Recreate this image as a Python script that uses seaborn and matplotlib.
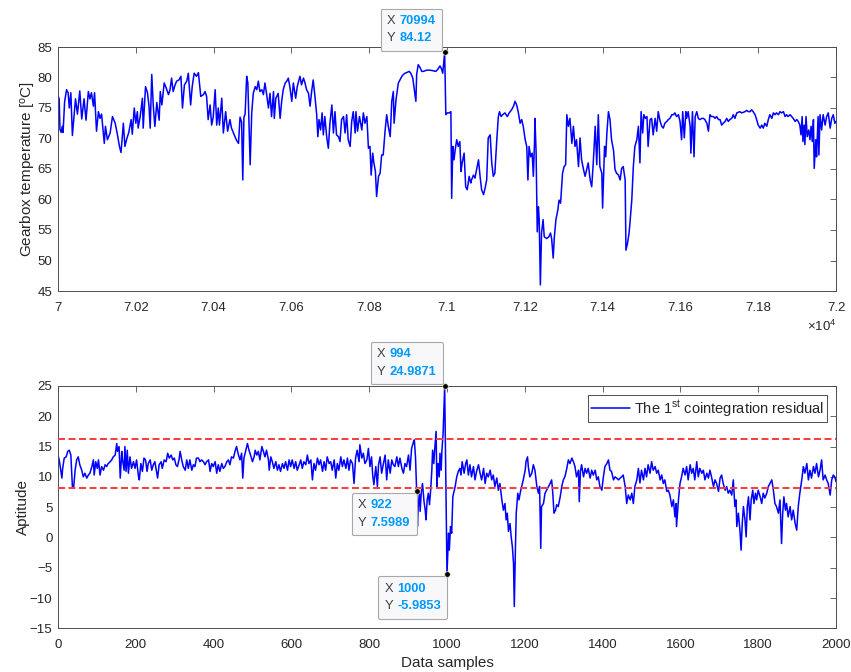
import numpy as np
import pandas as pd
import matplotlib
matplotlib.use("Agg")
import matplotlib.pyplot as plt
import seaborn as sns
from matplotlib.offsetbox import AnnotationBbox, TextArea, HPacker, VPacker
from matplotlib.ticker import FuncFormatter, MultipleLocator

# ---------------------------------------------------------------------------
# Gearbox temperature, samples 70000..72000 (offset from sample_start)
# ---------------------------------------------------------------------------
sample_start = 70000
temp_offset = [
    0, 3, 5, 8, 11, 13, 17, 22, 26, 29, 33, 37, 41, 45, 50, 56, 61, 67, 72, 78,
    82, 86, 91, 94, 99, 104, 108, 112, 119, 122, 127, 134, 140, 147, 152, 158, 162, 168, 172, 177,
    182, 188, 191, 196, 200, 204, 206, 211, 217, 219, 225, 230, 234, 237, 241, 245, 249, 254, 260, 263,
    267, 273, 278, 284, 288, 292, 296, 301, 305, 311, 316, 320, 325, 331, 335, 341, 345, 350, 356, 361,
    367, 374, 378, 382, 386, 391, 395, 399, 404, 408, 412, 415, 421, 425, 431, 436, 442, 446, 451, 455,
    459, 464, 468, 472, 475, 478, 481, 485, 488, 491, 494, 498, 502, 507, 511, 515, 519, 524, 528, 532,
    536, 541, 545, 549, 554, 556, 560, 566, 571, 575, 579, 584, 588, 592, 596, 601, 605, 611, 615, 622,
    626, 631, 635, 639, 644, 648, 652, 656, 661, 665, 668, 671, 675, 679, 682, 686, 691, 695, 699, 704,
    708, 712, 716, 721, 725, 729, 734, 738, 742, 746, 751, 755, 759, 764, 766, 770, 775, 781, 785, 789,
    794, 798, 802, 805, 809, 812, 816, 819, 824, 828, 832, 836, 841, 845, 849, 854, 858, 862, 864, 869,
    875, 879, 884, 888, 892, 896, 903, 907, 912, 916, 920, 922, 926, 931, 935, 939, 948, 956, 965, 971,
    976, 982, 986, 989, 994, 997, 1001, 1006, 1010, 1012, 1015, 1018, 1021, 1025, 1029, 1033, 1036, 1039, 1044, 1048,
    1052, 1057, 1061, 1063, 1068, 1072, 1076, 1081, 1085, 1089, 1094, 1098, 1102, 1106, 1111, 1115, 1119, 1123, 1128, 1132,
    1135, 1139, 1143, 1149, 1155, 1160, 1166, 1171, 1175, 1179, 1183, 1188, 1192, 1196, 1201, 1205, 1208, 1211, 1215, 1219,
    1222, 1225, 1226, 1229, 1232, 1235, 1237, 1240, 1243, 1247, 1250, 1256, 1262, 1266, 1269, 1273, 1276, 1280, 1285, 1288,
    1292, 1297, 1301, 1305, 1308, 1312, 1316, 1321, 1325, 1329, 1333, 1338, 1342, 1346, 1351, 1355, 1359, 1363, 1368, 1372,
    1376, 1381, 1385, 1389, 1393, 1398, 1400, 1405, 1408, 1411, 1415, 1419, 1423, 1428, 1432, 1436, 1441, 1445, 1449, 1453,
    1458, 1460, 1464, 1468, 1471, 1475, 1479, 1483, 1488, 1492, 1496, 1499, 1503, 1506, 1510, 1514, 1517, 1522, 1526, 1530,
    1535, 1539, 1543, 1548, 1552, 1556, 1560, 1565, 1569, 1573, 1578, 1582, 1586, 1590, 1595, 1599, 1603, 1606, 1610, 1614,
    1616, 1620, 1625, 1627, 1631, 1635, 1638, 1642, 1646, 1650, 1655, 1659, 1663, 1668, 1672, 1676, 1680, 1685, 1689, 1693,
    1698, 1702, 1706, 1710, 1715, 1719, 1723, 1727, 1732, 1736, 1740, 1745, 1749, 1753, 1757, 1762, 1766, 1770, 1775, 1779,
    1783, 1787, 1792, 1796, 1800, 1805, 1809, 1813, 1817, 1822, 1826, 1830, 1835, 1839, 1843, 1847, 1852, 1856, 1860, 1865,
    1869, 1873, 1877, 1882, 1886, 1890, 1895, 1899, 1903, 1907, 1910, 1913, 1915, 1918, 1920, 1923, 1926, 1930, 1933, 1936,
    1939, 1942, 1944, 1948, 1950, 1954, 1956, 1959, 1963, 1967, 1972, 1976, 1980, 1985, 1989, 1993, 1997, 2000,
]
temp_value = [
    77.0, 76.5, 71.5, 71.0, 72.0, 71.0, 76.0, 78.0, 77.5, 75.0, 77.5, 70.5, 73.5, 76.5, 74.0, 77.8, 73.2, 76.5, 73.0, 77.7,
    76.5, 77.5, 75.3, 77.5, 71.2, 74.4, 73.3, 74.0, 69.2, 72.0, 69.8, 70.9, 73.6, 72.5, 70.9, 68.7, 67.7, 72.5, 68.7, 70.0,
    71.0, 73.1, 70.7, 75.0, 72.5, 74.4, 71.7, 73.5, 76.6, 71.7, 78.5, 77.5, 75.3, 71.7, 80.5, 75.3, 72.0, 75.9, 73.0, 77.7,
    75.5, 79.1, 78.3, 77.2, 78.0, 79.9, 77.7, 78.8, 79.4, 79.6, 80.2, 75.0, 78.8, 79.4, 80.7, 75.5, 78.5, 80.7, 80.2, 80.8,
    76.9, 77.2, 77.7, 76.9, 73.1, 75.5, 72.2, 73.5, 78.0, 72.2, 75.0, 72.2, 76.6, 70.9, 74.4, 71.2, 73.1, 71.7, 70.9, 70.3,
    69.7, 69.2, 73.5, 72.7, 63.2, 73.5, 74.0, 80.2, 79.1, 72.5, 65.7, 74.2, 77.4, 78.5, 78.0, 79.4, 77.7, 78.0, 77.2, 79.1,
    77.4, 75.0, 77.4, 73.6, 77.7, 73.3, 76.6, 77.4, 73.3, 76.1, 78.0, 79.1, 79.4, 79.9, 78.5, 76.1, 79.1, 76.6, 78.5, 80.2,
    78.8, 79.9, 79.1, 78.0, 77.4, 75.3, 77.7, 79.6, 76.6, 73.9, 70.3, 73.1, 71.4, 74.2, 70.6, 73.6, 70.1, 68.4, 72.5, 75.5,
    70.9, 74.4, 70.6, 70.3, 69.5, 73.1, 73.6, 70.9, 73.9, 69.8, 68.7, 72.8, 74.4, 70.9, 74.4, 71.2, 73.6, 71.4, 74.2, 72.5,
    73.6, 68.4, 68.7, 64.0, 67.6, 66.0, 64.6, 60.5, 63.8, 64.3, 67.3, 67.3, 71.4, 73.9, 72.0, 70.3, 76.1, 77.7, 72.5, 76.4,
    79.1, 79.6, 80.2, 80.5, 80.7, 80.8, 81.0, 80.7, 79.9, 78.0, 76.1, 80.5, 82.1, 81.6, 81.0, 81.0, 81.2, 81.2, 81.1, 81.0,
    81.3, 81.9, 81.4, 80.7, 84.12, 73.9, 74.2, 74.2, 74.4, 60.2, 68.7, 66.5, 68.1, 69.8, 68.7, 69.5, 64.6, 66.0, 67.6, 62.1,
    61.6, 63.8, 62.7, 63.2, 64.0, 63.5, 64.9, 66.5, 63.8, 61.6, 60.8, 61.9, 63.2, 70.1, 70.6, 66.0, 63.8, 64.3, 69.8, 73.6,
    74.4, 73.6, 73.9, 74.2, 73.6, 74.2, 74.7, 75.3, 76.1, 75.5, 74.4, 72.5, 73.1, 72.0, 69.8, 68.7, 63.2, 68.7, 67.0, 67.6,
    63.8, 69.5, 73.3, 67.9, 54.7, 58.8, 56.7, 46.0, 54.5, 56.7, 53.9, 53.6, 53.9, 54.5, 53.6, 50.4, 53.9, 56.7, 58.3, 59.9,
    59.4, 64.3, 65.4, 65.7, 73.9, 72.0, 73.3, 69.2, 72.0, 68.7, 69.8, 65.4, 70.1, 66.5, 64.9, 63.8, 64.9, 66.0, 63.2, 62.1,
    66.0, 72.0, 65.7, 73.9, 65.4, 64.3, 58.6, 68.7, 67.0, 70.9, 74.4, 73.1, 69.8, 68.1, 64.9, 64.3, 64.0, 63.2, 65.1, 65.4,
    63.2, 51.7, 52.8, 54.5, 56.7, 59.9, 65.4, 68.7, 69.8, 72.0, 66.0, 74.4, 70.9, 73.9, 73.3, 73.6, 68.7, 73.1, 73.3, 70.6,
    73.3, 71.2, 74.4, 72.8, 72.0, 71.7, 72.5, 72.8, 73.1, 73.3, 73.9, 73.9, 74.2, 73.6, 73.9, 72.8, 69.8, 74.4, 70.1, 74.4,
    73.3, 74.4, 72.0, 67.6, 74.4, 67.0, 73.6, 74.4, 73.3, 73.1, 73.3, 73.3, 73.1, 72.5, 71.2, 73.9, 73.6, 73.6, 73.3, 73.6,
    73.1, 73.1, 72.2, 72.5, 72.8, 73.3, 72.8, 73.1, 73.3, 73.9, 73.3, 74.2, 74.3, 74.4, 74.2, 74.3, 74.4, 74.6, 74.4, 74.4,
    74.7, 74.4, 73.9, 73.1, 72.2, 71.7, 72.2, 71.7, 72.5, 72.0, 73.1, 73.9, 73.3, 74.2, 73.9, 74.2, 73.9, 74.4, 74.2, 74.4,
    73.6, 73.9, 73.6, 73.9, 73.6, 73.3, 72.8, 73.1, 72.8, 72.2, 70.6, 73.6, 69.5, 72.2, 69.0, 73.6, 70.3, 71.4, 69.8, 72.0,
    69.5, 73.1, 65.1, 69.8, 67.0, 73.6, 67.3, 73.9, 71.4, 73.9, 72.2, 73.6, 74.2, 71.7, 73.3, 73.9, 72.5, 72.8,
]

# ---------------------------------------------------------------------------
# First cointegration residual, samples 0..2000
# ---------------------------------------------------------------------------
resid_sample = [
    0, 3, 5, 10, 12, 16, 21, 25, 29, 33, 37, 40, 44, 48, 52, 56, 61, 65, 69, 74,
    78, 82, 87, 91, 93, 97, 101, 104, 108, 112, 117, 121, 125, 129, 134, 138, 142, 147, 151, 153,
    157, 160, 164, 166, 170, 172, 175, 178, 181, 185, 189, 194, 198, 202, 207, 209, 213, 217, 221, 225,
    229, 232, 237, 241, 245, 249, 254, 256, 260, 265, 268, 273, 278, 282, 286, 291, 295, 299, 303, 307,
    311, 314, 318, 322, 327, 331, 335, 339, 344, 348, 352, 356, 361, 365, 369, 374, 378, 382, 387, 391,
    395, 399, 404, 408, 412, 416, 421, 425, 429, 434, 438, 442, 446, 451, 455, 459, 464, 468, 472, 475,
    478, 482, 487, 491, 495, 500, 504, 507, 511, 515, 519, 524, 528, 532, 536, 541, 543, 547, 551, 555,
    560, 564, 568, 572, 577, 581, 585, 590, 594, 598, 602, 607, 611, 615, 620, 624, 628, 632, 637, 641,
    645, 650, 654, 658, 662, 667, 671, 675, 680, 684, 688, 692, 697, 701, 705, 710, 714, 718, 722, 727,
    731, 735, 740, 744, 748, 752, 757, 761, 765, 769, 774, 776, 781, 785, 789, 794, 798, 802, 806, 809,
    812, 817, 821, 824, 828, 832, 836, 841, 845, 849, 854, 858, 862, 866, 871, 875, 879, 884, 888, 892,
    896, 901, 905, 909, 914, 916, 919, 922, 924, 926, 929, 931, 934, 937, 941, 944, 946, 949, 952, 955,
    958, 961, 963, 966, 968, 972, 974, 977, 980, 982, 985, 987, 990, 994, 996, 998, 1000, 1002, 1004, 1006,
    1009, 1012, 1015, 1017, 1021, 1025, 1029, 1033, 1036, 1039, 1044, 1048, 1051, 1055, 1059, 1063, 1068, 1072, 1076, 1081,
    1085, 1089, 1094, 1098, 1102, 1106, 1111, 1115, 1119, 1123, 1128, 1132, 1136, 1141, 1145, 1149, 1152, 1155, 1158, 1162,
    1165, 1168, 1171, 1173, 1176, 1178, 1182, 1185, 1189, 1192, 1196, 1201, 1203, 1207, 1209, 1213, 1218, 1222, 1226, 1231,
    1235, 1238, 1241, 1243, 1248, 1252, 1256, 1261, 1265, 1269, 1272, 1275, 1279, 1282, 1286, 1291, 1295, 1299, 1303, 1308,
    1312, 1316, 1321, 1325, 1329, 1333, 1338, 1340, 1343, 1346, 1351, 1355, 1359, 1363, 1368, 1372, 1376, 1381, 1385, 1389,
    1393, 1398, 1402, 1406, 1411, 1415, 1419, 1423, 1428, 1432, 1436, 1441, 1445, 1449, 1453, 1458, 1462, 1466, 1471, 1475,
    1479, 1483, 1488, 1492, 1496, 1500, 1505, 1509, 1513, 1517, 1522, 1526, 1530, 1535, 1539, 1543, 1548, 1552, 1556, 1560,
    1565, 1569, 1573, 1578, 1582, 1586, 1589, 1590, 1595, 1599, 1603, 1607, 1612, 1616, 1620, 1625, 1629, 1633, 1637, 1642,
    1646, 1650, 1655, 1659, 1663, 1668, 1672, 1676, 1680, 1685, 1689, 1693, 1698, 1702, 1706, 1710, 1715, 1719, 1723, 1727,
    1732, 1736, 1740, 1743, 1745, 1749, 1753, 1756, 1759, 1762, 1766, 1769, 1772, 1775, 1779, 1782, 1786, 1789, 1793, 1796,
    1800, 1805, 1809, 1813, 1817, 1822, 1826, 1830, 1835, 1839, 1843, 1847, 1852, 1856, 1860, 1863, 1866, 1870, 1873, 1877,
    1882, 1886, 1890, 1895, 1899, 1903, 1907, 1912, 1916, 1920, 1925, 1929, 1933, 1937, 1942, 1946, 1950, 1955, 1959, 1963,
    1967, 1972, 1976, 1980, 1985, 1989, 1993, 1997, 2000,
]
resid_value = [
    13.6, 12.8, 12.0, 9.8, 11.4, 13.1, 13.3, 14.2, 14.4, 13.6, 8.4, 8.1, 11.1, 12.8, 13.3, 12.0, 11.1, 10.0, 10.6, 9.8,
    10.3, 10.6, 11.7, 12.8, 10.3, 12.5, 11.4, 12.8, 10.3, 11.7, 11.1, 12.0, 11.7, 12.2, 12.5, 12.8, 13.3, 13.6, 15.5, 14.2,
    15.0, 9.8, 14.2, 12.8, 11.1, 15.0, 10.9, 14.4, 10.6, 13.3, 11.4, 12.5, 11.4, 12.8, 10.0, 9.5, 12.2, 10.9, 13.1, 12.8,
    10.9, 12.2, 12.8, 11.1, 12.0, 12.5, 10.6, 9.8, 12.0, 12.5, 11.4, 12.8, 12.5, 13.9, 13.1, 13.6, 12.8, 13.1, 12.0, 11.7,
    12.8, 14.2, 12.8, 11.7, 11.1, 12.8, 11.4, 12.8, 11.1, 12.0, 11.7, 13.1, 13.1, 12.5, 12.8, 12.5, 12.0, 12.5, 12.8, 10.9,
    12.2, 11.7, 12.5, 10.6, 12.0, 10.9, 12.2, 11.4, 11.7, 12.5, 12.8, 12.0, 13.3, 13.1, 14.2, 15.0, 13.6, 12.8, 13.9, 9.8,
    13.1, 14.2, 15.5, 14.4, 13.6, 12.5, 13.3, 14.4, 13.6, 14.2, 12.8, 15.0, 14.2, 13.3, 14.4, 12.8, 11.1, 13.3, 12.5, 11.4,
    12.5, 11.1, 12.0, 10.9, 12.2, 11.4, 12.5, 11.1, 12.8, 11.7, 12.8, 11.4, 12.5, 11.1, 12.0, 12.8, 11.4, 12.5, 12.0, 13.6,
    12.2, 12.8, 9.5, 12.2, 11.1, 13.1, 12.0, 12.8, 10.9, 12.5, 11.1, 13.3, 12.2, 12.5, 11.1, 12.8, 9.8, 12.2, 11.1, 13.3,
    11.7, 12.8, 11.4, 13.1, 11.1, 12.8, 12.2, 8.9, 13.1, 14.4, 12.5, 15.3, 13.1, 13.9, 12.2, 12.8, 14.7, 11.7, 13.3, 10.3,
    8.7, 11.7, 8.4, 12.0, 13.3, 10.6, 12.0, 13.6, 9.5, 12.8, 10.6, 12.8, 12.0, 11.7, 13.3, 11.7, 13.1, 11.4, 10.6, 12.2,
    11.7, 13.6, 11.1, 14.7, 15.8, 16.1, 13.3, 7.5989, 1.8, 5.1, 7.3, 4.3, 7.6, 8.9, 5.9, 4.5, 2.9, 6.2, 7.3, 5.4,
    7.8, 11.1, 14.4, 12.2, 14.2, 17.5, 8.4, 12.2, 10.0, 13.9, 11.1, 14.4, 17.2, 24.9871, 15.0, 4.0, -5.9853, -2.6, 0.7, -2.1,
    1.8, 0.7, 6.7, 7.3, 8.4, 10.0, 10.9, 11.4, 10.3, 12.5, 10.6, 12.2, 12.8, 10.3, 12.0, 10.0, 11.7, 9.5, 10.9, 12.0,
    10.6, 9.5, 11.4, 8.9, 10.6, 10.0, 11.1, 9.5, 10.3, 8.4, 9.8, 7.8, 8.9, 6.2, 4.5, 5.6, 2.9, 4.0, 1.0, 2.3,
    0.1, -1.5, -4.3, -11.4, -1.5, 4.0, 7.3, 6.2, 7.6, 8.4, 9.5, 11.1, 12.5, 13.3, 11.7, 10.0, 10.6, 12.0, 11.1, 8.4,
    7.3, 8.4, -1.8, 5.1, 5.6, 7.3, 7.8, 8.4, 8.9, 9.5, 7.3, 4.0, 4.5, 5.4, 5.1, 6.7, 8.4, 9.5, 10.0, 11.4,
    12.8, 12.2, 13.1, 12.5, 11.7, 10.0, 11.1, 5.9, 10.9, 12.0, 10.0, 11.4, 10.6, 11.4, 9.8, 11.1, 10.3, 11.1, 9.5, 10.0,
    8.4, 7.8, 10.0, 11.7, 12.2, 12.8, 11.1, 10.9, 9.5, 10.0, 9.8, 9.5, 9.8, 10.0, 10.3, 8.4, 5.6, 7.0, 6.2, 7.3,
    5.6, 8.4, 9.5, 11.4, 9.0, 11.1, 9.5, 11.4, 10.0, 12.0, 10.6, 12.5, 11.1, 11.7, 10.6, 11.1, 9.5, 10.3, 8.9, 9.5,
    7.6, 7.8, 7.0, 5.1, 6.2, 3.4, 5.6, 1.8, 6.2, 8.9, 10.0, 11.4, 10.3, 11.7, 9.5, 12.0, 10.6, 11.4, 9.5, 12.5,
    10.0, 11.4, 10.6, 11.1, 9.5, 10.6, 9.8, 11.1, 10.0, 8.4, 9.5, 8.9, 7.6, 9.8, 10.3, 8.9, 7.8, 8.4, 7.3, 7.8,
    7.0, 9.5, 5.1, 6.2, 1.8, 4.0, 1.2, -2.1, 2.3, 5.1, 2.9, 0.1, 5.1, 6.7, 2.9, 6.2, 7.8, 5.6, 7.3, 6.2,
    7.8, 6.7, 5.6, 7.3, 6.5, 7.3, 8.4, 8.9, 9.5, 7.8, 5.6, 5.1, 4.0, 6.2, -1.0, 4.0, 6.7, 4.5, 5.6, 3.4,
    5.1, 2.9, 4.5, 2.3, 1.2, 5.1, 7.3, 9.5, 11.7, 10.6, 12.2, 9.5, 11.1, 9.8, 11.7, 10.6, 12.2, 10.0, 11.1, 12.8,
    9.5, 10.3, 9.5, 8.9, 7.0, 9.5, 10.3, 10.0, 9.2,
]

# Control limits of the residual
upper_limit = 16.3
lower_limit = 8.2

# Points carrying a data tip
temp_tip_offsets = [994]
resid_tip_samples = [994, 922, 1000]

# ---------------------------------------------------------------------------
sns.set_style("white")
plt.rcParams["font.family"] = ["Liberation Sans", "DejaVu Sans"]
plt.rcParams["mathtext.fontset"] = "custom"
plt.rcParams["mathtext.rm"] = "Liberation Sans"
plt.rcParams["mathtext.it"] = "Liberation Sans:italic"
plt.rcParams["mathtext.bf"] = "Liberation Sans:bold"

AX_COLOR = "#4d4d4d"
TEXT_COLOR = "#262626"
LINE_BLUE = "#0000ff"
TIP_BLUE = "#0099ff"

temp_df = pd.DataFrame({
    "sample": np.asarray(temp_offset) + sample_start,
    "temperature": temp_value,
})
resid_df = pd.DataFrame({"sample": resid_sample, "residual": resid_value})

W, H = 851, 672
fig = plt.figure(figsize=(W / 100, H / 100), dpi=100)
ax1 = fig.add_axes([58 / W, 1 - 291 / H, 778 / W, 244 / H])
ax2 = fig.add_axes([58 / W, 1 - 628.3 / H, 778 / W, 242.3 / H])


def style_axes(ax):
    for sp in ax.spines.values():
        sp.set_visible(True)
        sp.set_color(AX_COLOR)
        sp.set_linewidth(0.7)
    ax.tick_params(direction="in", top=True, right=True, length=4.5, width=0.6,
                   color=AX_COLOR, labelcolor=TEXT_COLOR, labelsize=9.5)
    ax.tick_params(axis="x", pad=8)
    ax.tick_params(axis="y", pad=4)
    ax.grid(False)


def datatip(ax, x, y, align, offset):
    rows = []
    for lab, val in (("X", f"{x:g}"), ("Y", f"{y:g}")):
        rows.append(HPacker(children=[
            TextArea(lab, textprops=dict(color="#404040", size=9.3)),
            TextArea(val, textprops=dict(color=TIP_BLUE, size=9.3, weight="bold")),
        ], pad=0, sep=3, align="baseline"))
    box = VPacker(children=rows, pad=0, sep=4, align="left")
    ab = AnnotationBbox(
        box, (x, y), xybox=offset, xycoords="data", boxcoords="offset points",
        box_alignment=align, frameon=True, pad=0.45, annotation_clip=False,
        bboxprops=dict(facecolor="#f8f8fb", edgecolor="#a8a8a8", lw=0.8,
                       boxstyle="round,pad=0.45,rounding_size=0.12"),
        zorder=10,
    )
    ax.add_artist(ab)


# ---- top: gearbox temperature ---------------------------------------------
sns.lineplot(data=temp_df, x="sample", y="temperature", ax=ax1, color=LINE_BLUE,
             lw=1.1, estimator=None, sort=False)
ax1.set_xlim(70000, 72000)
ax1.set_ylim(45, 85)
ax1.xaxis.set_major_locator(MultipleLocator(200))
ax1.yaxis.set_major_locator(MultipleLocator(5))
ax1.xaxis.set_major_formatter(FuncFormatter(lambda v, p: f"{v / 1e4:g}"))
ax1.set_xlabel("")
ax1.set_ylabel("Gearbox temperature [$^{\\mathrm{o}}$C]", fontsize=11,
               color=TEXT_COLOR, labelpad=0)
style_axes(ax1)
fig.text(836 / W, 1 - 326 / H, "$\\times$10$^{4}$", ha="right", va="center",
         fontsize=9.5, color=TEXT_COLOR)

tip_x = [o + sample_start for o in temp_tip_offsets]
tip_y = [temp_value[temp_offset.index(o)] for o in temp_tip_offsets]
sns.scatterplot(x=tip_x, y=tip_y, ax=ax1, color="black", s=16, edgecolor="#e8e8b0",
                linewidth=0.5, zorder=11, clip_on=False)
datatip(ax1, tip_x[0], tip_y[0], (1, 0), (-6.5, 5.8))

# ---- bottom: cointegration residual ---------------------------------------
sns.lineplot(data=resid_df, x="sample", y="residual", ax=ax2, color=LINE_BLUE,
             lw=1.1, estimator=None, sort=False,
             label="The 1$^{\\mathrm{st}}$ cointegration residual")
for lim in (upper_limit, lower_limit):
    ax2.axhline(lim, color="#ff3a3a", lw=1.4, dashes=(3.6, 1.8), zorder=3)
ax2.set_xlim(0, 2000)
ax2.set_ylim(-15, 25)
ax2.xaxis.set_major_locator(MultipleLocator(200))
ax2.yaxis.set_major_locator(MultipleLocator(5))
ax2.set_xlabel("Data samples", fontsize=11, color=TEXT_COLOR, labelpad=3.5)
ax2.set_ylabel("Aptitude", fontsize=11, color=TEXT_COLOR, labelpad=0)
style_axes(ax2)

tips_y = [resid_value[resid_sample.index(s)] for s in resid_tip_samples]
sns.scatterplot(x=resid_tip_samples, y=tips_y, ax=ax2, color="black", s=16,
                edgecolor="#e8e8b0", linewidth=0.5, zorder=11, clip_on=False,
                legend=False)
tip_layout = {
    994: ((1, 0), (-5.8, 5.8)),
    922: ((1, 1), (-4.5, -5.8)),
    1000: ((1, 1), (-4.5, -6.5)),
}
for s, v in zip(resid_tip_samples, tips_y):
    align, off = tip_layout[s]
    datatip(ax2, s, v, align, off)

leg = ax2.legend(loc="upper right", fontsize=10.5, frameon=True, fancybox=False,
                 edgecolor=AX_COLOR, framealpha=1, borderaxespad=0.65,
                 handlelength=2.7, handletextpad=0.25, borderpad=0.2)
leg.get_frame().set_linewidth(0.7)

fig.savefig("out.png", dpi=100)
